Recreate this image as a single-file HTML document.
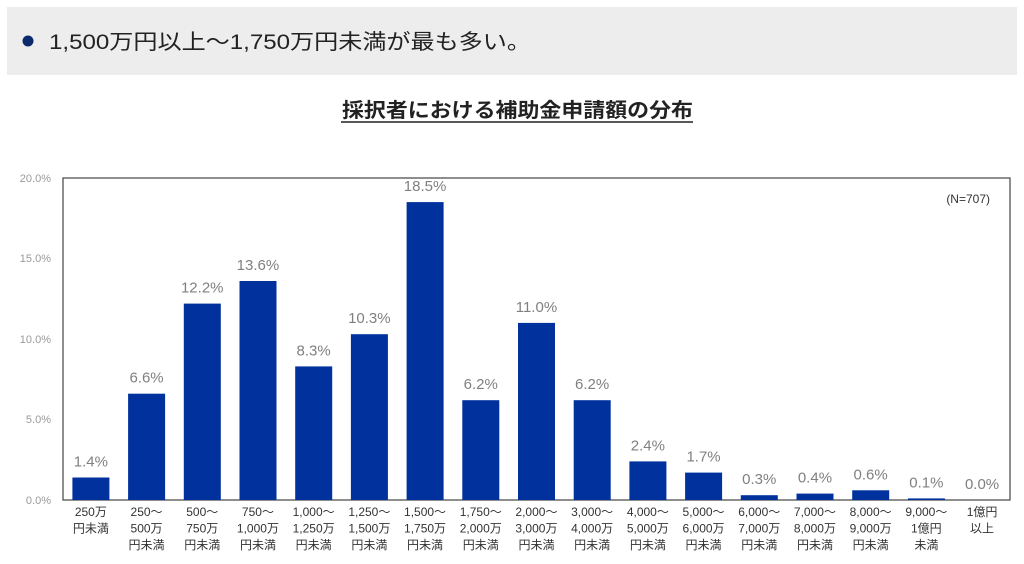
<!DOCTYPE html>
<html><head><meta charset="utf-8"><style>
body{margin:0;background:#fff;width:1024px;height:559px;overflow:hidden}
</style></head><body>
<svg width="1024" height="559" xmlns="http://www.w3.org/2000/svg" font-family="Liberation Sans, Noto Sans CJK JP, sans-serif">
<rect x="7" y="7" width="1010" height="68" fill="#ededed"/>
<circle cx="28" cy="41" r="5.5" fill="#0c2a6b"/>
<text x="49" y="49" font-size="21" fill="#222" textLength="482" lengthAdjust="spacingAndGlyphs">1,500万円以上～1,750万円未満が最も多い。</text>
<text x="342" y="117" font-size="20" font-weight="bold" fill="#222" textLength="351" lengthAdjust="spacingAndGlyphs">採択者における補助金申請額の分布</text>
<line x1="341" y1="122" x2="693" y2="122" stroke="#222" stroke-width="1.5"/>
<g font-size="11" fill="#999" text-anchor="end">
<text x="51" y="182">20.0%</text><text x="51" y="262">15.0%</text><text x="51" y="343">10.0%</text><text x="51" y="423">5.0%</text><text x="51" y="504">0.0%</text>
</g>
<rect x="63" y="178" width="947" height="322" fill="none" stroke="#444" stroke-width="1.2"/>
<text x="990" y="203" font-size="12" fill="#333" text-anchor="end">(N=707)</text>
<g fill="#00319c">
<rect x="72.4" y="477.5" width="37" height="22.5"/>
<rect x="128.1" y="393.7" width="37" height="106.3"/>
<rect x="183.8" y="303.6" width="37" height="196.4"/>
<rect x="239.5" y="281" width="37" height="219"/>
<rect x="295.2" y="366.4" width="37" height="133.6"/>
<rect x="350.9" y="334.2" width="37" height="165.8"/>
<rect x="406.6" y="202.1" width="37" height="297.9"/>
<rect x="462.3" y="400.2" width="37" height="99.8"/>
<rect x="518" y="322.9" width="37" height="177.1"/>
<rect x="573.7" y="400.2" width="37" height="99.8"/>
<rect x="629.4" y="461.4" width="37" height="38.6"/>
<rect x="685.1" y="472.6" width="37" height="27.4"/>
<rect x="740.8" y="495.2" width="37" height="4.8"/>
<rect x="796.5" y="493.6" width="37" height="6.4"/>
<rect x="852.2" y="490.3" width="37" height="9.7"/>
<rect x="907.9" y="498.4" width="37" height="1.6"/>
</g>
<g font-size="15" fill="#808080" text-anchor="middle">
<text x="90.85" y="466.5">1.4%</text>
<text x="146.55" y="382.7">6.6%</text>
<text x="202.25" y="292.6">12.2%</text>
<text x="257.95" y="270">13.6%</text>
<text x="313.65" y="355.4">8.3%</text>
<text x="369.35" y="323.2">10.3%</text>
<text x="425.05" y="191.1">18.5%</text>
<text x="480.75" y="389.2">6.2%</text>
<text x="536.45" y="311.9">11.0%</text>
<text x="592.15" y="389.2">6.2%</text>
<text x="647.85" y="450.4">2.4%</text>
<text x="703.55" y="461.6">1.7%</text>
<text x="759.25" y="484.2">0.3%</text>
<text x="814.95" y="482.6">0.4%</text>
<text x="870.65" y="479.3">0.6%</text>
<text x="926.35" y="487.4">0.1%</text>
<text x="982.05" y="489">0.0%</text>
</g>
<g font-size="12" fill="#333" text-anchor="middle">
<text x="90.85" y="516">250万</text><text x="90.85" y="532.5">円未満</text>
<text x="146.55" y="516">250～</text><text x="146.55" y="532.5">500万</text><text x="146.55" y="549">円未満</text>
<text x="202.25" y="516">500～</text><text x="202.25" y="532.5">750万</text><text x="202.25" y="549">円未満</text>
<text x="257.95" y="516">750～</text><text x="257.95" y="532.5">1,000万</text><text x="257.95" y="549">円未満</text>
<text x="313.65" y="516">1,000～</text><text x="313.65" y="532.5">1,250万</text><text x="313.65" y="549">円未満</text>
<text x="369.35" y="516">1,250～</text><text x="369.35" y="532.5">1,500万</text><text x="369.35" y="549">円未満</text>
<text x="425.05" y="516">1,500～</text><text x="425.05" y="532.5">1,750万</text><text x="425.05" y="549">円未満</text>
<text x="480.75" y="516">1,750～</text><text x="480.75" y="532.5">2,000万</text><text x="480.75" y="549">円未満</text>
<text x="536.45" y="516">2,000～</text><text x="536.45" y="532.5">3,000万</text><text x="536.45" y="549">円未満</text>
<text x="592.15" y="516">3,000～</text><text x="592.15" y="532.5">4,000万</text><text x="592.15" y="549">円未満</text>
<text x="647.85" y="516">4,000～</text><text x="647.85" y="532.5">5,000万</text><text x="647.85" y="549">円未満</text>
<text x="703.55" y="516">5,000～</text><text x="703.55" y="532.5">6,000万</text><text x="703.55" y="549">円未満</text>
<text x="759.25" y="516">6,000～</text><text x="759.25" y="532.5">7,000万</text><text x="759.25" y="549">円未満</text>
<text x="814.95" y="516">7,000～</text><text x="814.95" y="532.5">8,000万</text><text x="814.95" y="549">円未満</text>
<text x="870.65" y="516">8,000～</text><text x="870.65" y="532.5">9,000万</text><text x="870.65" y="549">円未満</text>
<text x="926.35" y="516">9,000～</text><text x="926.35" y="532.5">1億円</text><text x="926.35" y="549">未満</text>
<text x="982.05" y="516">1億円</text><text x="982.05" y="532.5">以上</text>
</g>
</svg>
</body></html>
